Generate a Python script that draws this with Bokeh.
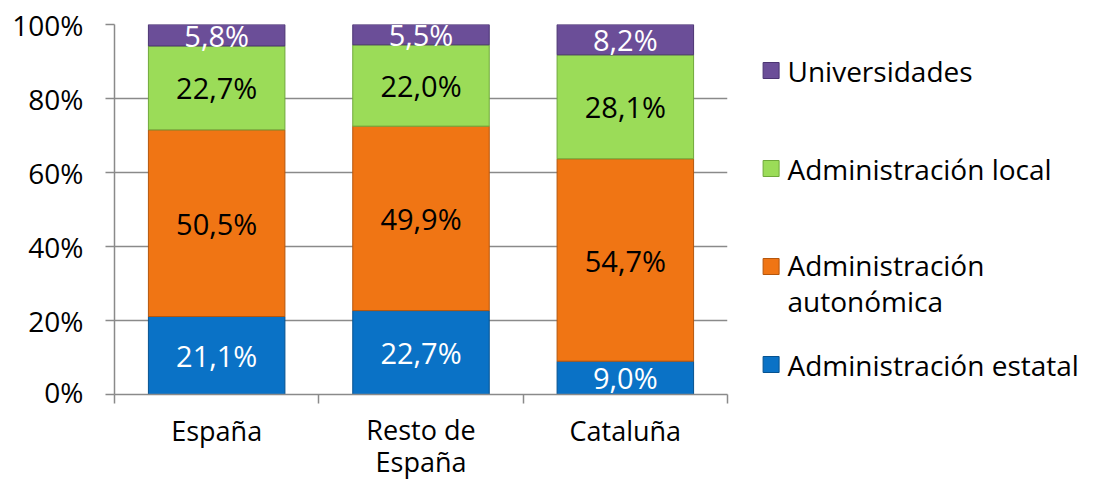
import numpy as np
from bokeh.plotting import figure
from bokeh.layouts import row, column
from bokeh.models import Range1d, FixedTicker, PrintfTickFormatter, ColumnDataSource
from bokeh.core.properties import value
from bokeh.embed import file_html
from bokeh.resources import INLINE

# ---------------- data ----------------
categories = ["España", "Resto de\nEspaña", "Cataluña"]
series = ["Administración estatal", "Administración autonómica",
          "Administración local", "Universidades"]
estatal = [21.1, 22.7, 9.0]
autonomica = [50.5, 49.9, 54.7]
local = [22.7, 22.0, 28.1]
universidades = [5.8, 5.5, 8.2]
y_ticks = [0, 20, 40, 60, 80, 100]
legend_labels = ["Universidades", "Administración local",
                 "Administración\nautonómica", "Administración estatal"]

colors = ["#0a72c6", "#f07514", "#9bdc58", "#6b4e98"]
edge_colors = ["#06528f", "#b5560c", "#6fa83a", "#4b3472"]
label_colors = ["white", "black", "black", "white"]

FONT = "Open Sans"
GRID = "#8a8a8a"

W_MAIN, W_LEG, H = 748, 345, 479
H_PLOT = 410                      # main plot height; category names below it
B_LEFT, B_RIGHT, B_TOP = 114, 21, 24
FRAME_BOTTOM = 394
LINE_GAP = 30

values = np.array([estatal, autonomica, local, universidades])
totals = values.sum(axis=0)
shares = values / totals * 100.0
tops = np.cumsum(shares, axis=0)
bottoms = tops - shares
xs = np.arange(len(categories)) + 0.5

p = figure(width=W_MAIN, height=H_PLOT,
           x_range=Range1d(0, len(categories)), y_range=Range1d(0, 100),
           output_backend="svg", toolbar_location=None,
           min_border_left=B_LEFT, min_border_right=B_RIGHT,
           min_border_top=B_TOP, min_border_bottom=H_PLOT - FRAME_BOTTOM)
p.outline_line_color = None
p.background_fill_color = "white"

for i, s in enumerate(series):
    src = ColumnDataSource(dict(
        x=xs, top=tops[i], bottom=bottoms[i],
        mid=(tops[i] + bottoms[i]) / 2.0,
        lab=[f"{v:.1f}".replace(".", ",") + "%" for v in values[i]]))
    p.vbar(x="x", top="top", bottom="bottom", width=0.668, source=src,
           fill_color=colors[i], line_color=edge_colors[i], line_width=1)
    p.text(x="x", y="mid", text="lab", source=src, text_align="center",
           text_baseline="middle", text_color=label_colors[i],
           text_font=value(FONT), text_font_size="29px")

# x axis: tick marks at category boundaries only
p.xaxis.ticker = FixedTicker(ticks=[], minor_ticks=list(range(len(categories) + 1)))
p.xaxis.major_label_text_font_size = "0px"
p.xaxis.major_label_standoff = 0
p.xaxis.major_tick_out = 0
p.xaxis.major_tick_in = 0
p.xaxis.minor_tick_in = 0
p.xaxis.minor_tick_out = 9
p.xaxis.minor_tick_line_color = GRID
p.xaxis.minor_tick_line_width = 1.5
p.xaxis.axis_line_color = GRID
p.xaxis.axis_line_width = 1.5

# y axis
p.yaxis.ticker = FixedTicker(ticks=y_ticks)
p.yaxis.formatter = PrintfTickFormatter(format="%d%%")
p.yaxis.major_tick_out = 9
p.yaxis.major_tick_in = 0
p.yaxis.minor_tick_line_color = None
p.yaxis.major_tick_line_color = GRID
p.yaxis.major_tick_line_width = 1.5
p.yaxis.axis_line_color = GRID
p.yaxis.axis_line_width = 1.5
p.yaxis.major_label_text_font = FONT
p.yaxis.major_label_text_font_size = "28px"
p.yaxis.major_label_text_color = "black"
p.yaxis.major_label_standoff = 22

p.xgrid.grid_line_color = None
p.ygrid.ticker = FixedTicker(ticks=y_ticks)
p.ygrid.grid_line_color = GRID
p.ygrid.grid_line_width = 1.5

# ---------------- category names (strip under the plot, shares x range) ----------------
cat = figure(width=W_MAIN, height=H - H_PLOT, x_range=p.x_range,
             y_range=Range1d(H, H_PLOT), output_backend="svg",
             toolbar_location=None, min_border_left=B_LEFT,
             min_border_right=B_RIGHT, min_border_top=0, min_border_bottom=0,
             x_axis_location=None, y_axis_location=None)
cat.outline_line_color = None
cat.grid.visible = False
cat_y = [FRAME_BOTTOM + 36 + (c.count("\n")) * LINE_GAP / 2.0 for c in categories]
cat.text(x=xs, y=cat_y, text=categories, text_align="center",
         text_baseline="middle", text_color="black", text_font=value(FONT),
         text_font_size="27px", text_line_height=0.84)

# ---------------- legend (separate panel, pixel coordinates) ----------------
leg = figure(width=W_LEG, height=H, x_range=Range1d(0, W_LEG),
             y_range=Range1d(FRAME_BOTTOM, B_TOP), output_backend="svg",
             toolbar_location=None, min_border_left=0, min_border_right=0,
             min_border_top=B_TOP, min_border_bottom=H - FRAME_BOTTOM,
             x_axis_location=None, y_axis_location=None)
leg.outline_line_color = None
leg.grid.visible = False
leg_y = np.array([70, 168, 266, 364])
line_gap = [0, 0, 16.5, 0]
leg.rect(x=22.6, y=leg_y, width=16, height=16,
         fill_color=colors[::-1], line_color=edge_colors[::-1])
leg.text(x=39, y=leg_y + np.array(line_gap), text=legend_labels,
         text_baseline="middle", text_align="left", text_color="black",
         text_font=value(FONT), text_font_size="28px", text_line_height=0.94)

layout = row(column(p, cat), leg)
open("out.html", "w").write(file_html(layout, INLINE))
